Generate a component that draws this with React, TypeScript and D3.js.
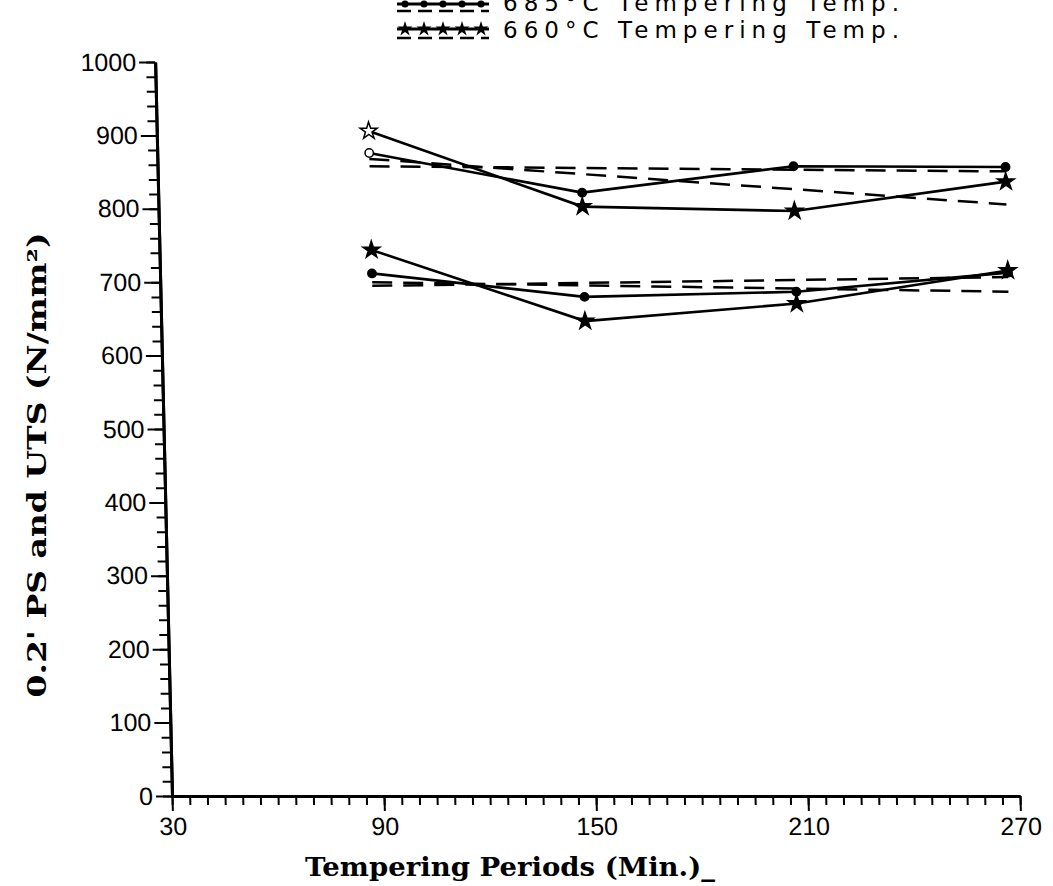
import React, { useEffect, useRef } from 'react';
import * as d3 from 'd3';

// tempering periods (min) and strength values (N/mm^2)
const periods = [90, 150, 210, 270];
const uts685 = [876, 822, 858, 857];
const uts660 = [906, 803, 797, 837];
const ps685 = [712, 680, 687, 713];
const ps660 = [744, 647, 671, 716];

// dashed trend lines, values at the first and last period
const fitPeriods = [90, 270];
const utsFit685 = [858, 851];
const utsFit660 = [868, 806];
const psFit685 = [695, 707];
const psFit660 = [700, 687];

const xMajor = [30, 90, 150, 210, 270];
const yMajor = [0, 100, 200, 300, 400, 500, 600, 700, 800, 900, 1000];

const legendLabels = ['685°C Tempering Temp.', '660°C Tempering Temp.'];

const App = () => {
  const svgRef = useRef(null);

  useEffect(() => {
    const svg = d3.select(svgRef.current);
    svg.selectAll('*').remove();

    const x = d3.scaleLinear().domain([30, 270]).range([172, 1020]);
    const y = d3.scaleLinear().domain([0, 1000]).range([796, 62]);

    // the scan is slightly sheared: top of the plot sits further left
    const g = svg.append('g').attr('transform', 'matrix(1,0,0.023,1,-18.3,0)');

    const tickFont = "'Liberation Sans', Arial, sans-serif";

    // x axis
    const xMinor = g.append('g').attr('transform', `translate(0,${y(0)})`)
      .call(d3.axisBottom(x).tickValues(d3.range(30, 271, 5)).tickSize(9).tickSizeOuter(0).tickFormat(() => ''));
    const xMaj = g.append('g').attr('transform', `translate(0,${y(0)})`)
      .call(d3.axisBottom(x).tickValues(xMajor).tickSize(15).tickSizeOuter(0).tickPadding(6).tickFormat(d3.format('d')));

    // y axis
    const yMinor = g.append('g').attr('transform', `translate(${x(30)},0)`)
      .call(d3.axisLeft(y).tickValues(d3.range(0, 1001, 20)).tickSize(9).tickSizeOuter(0).tickFormat(() => ''));
    const yMaj = g.append('g').attr('transform', `translate(${x(30)},0)`)
      .call(d3.axisLeft(y).tickValues(yMajor).tickSize(16).tickSizeOuter(0).tickPadding(3).tickFormat(d3.format('d')));

    [xMinor, xMaj, yMinor, yMaj].forEach(a => {
      a.selectAll('line').attr('stroke', '#000').attr('stroke-width', 2);
      a.select('.domain').attr('stroke', '#000').attr('stroke-width', 3);
      a.selectAll('text').attr('font-family', tickFont).attr('font-size', 25).attr('fill', '#000');
    });

    const line = d3.line().x(d => x(d[0])).y(d => y(d[1]));

    const drawFit = (vals) => {
      g.append('path')
        .datum(fitPeriods.map((p, i) => [p, vals[i]]))
        .attr('d', line)
        .attr('fill', 'none')
        .attr('stroke', '#000')
        .attr('stroke-width', 2.5)
        .attr('stroke-dasharray', '20,11');
    };
    [utsFit685, utsFit660, psFit685, psFit660].forEach(drawFit);

    const star = d3.symbol().type(d3.symbolStar).size(90);
    const circle = d3.symbol().type(d3.symbolCircle).size(55);

    const drawSeries = (vals, sym, hollowFirst) => {
      const pts = periods.map((p, i) => [p, vals[i]]);
      g.append('path')
        .datum(pts)
        .attr('d', line)
        .attr('fill', 'none')
        .attr('stroke', '#000')
        .attr('stroke-width', 2.6);
      g.selectAll(null)
        .data(pts)
        .join('path')
        .attr('d', sym)
        .attr('transform', d => `translate(${x(d[0])},${y(d[1])})`)
        .attr('fill', (d, i) => (hollowFirst && i === 0 ? '#fff' : '#000'))
        .attr('stroke', '#000')
        .attr('stroke-width', 1.5);
    };
    drawSeries(uts685, circle, true);
    drawSeries(uts660, star, true);
    drawSeries(ps685, circle, false);
    drawSeries(ps660, star, false);

    // axis titles
    svg.append('text')
      .attr('transform', `translate(46,465) rotate(-90)`)
      .attr('text-anchor', 'middle')
      .attr('font-family', "'DejaVu Serif', serif")
      .attr('font-weight', 'bold')
      .attr('font-size', 26)
      .attr('textLength', 465)
      .attr('lengthAdjust', 'spacingAndGlyphs')
      .text('0.2\' PS and UTS (N/mm²)');

    svg.append('text')
      .attr('x', 305)
      .attr('y', 876)
      .attr('font-family', "'DejaVu Serif', serif")
      .attr('font-weight', 'bold')
      .attr('font-size', 26)
      .attr('textLength', 410)
      .attr('lengthAdjust', 'spacingAndGlyphs')
      .text('Tempering Periods (Min.)_');

    // legend (top row is cut by the image edge, as in the scan)
    const legStar = d3.symbol().type(d3.symbolStar).size(70);
    const legCircle = d3.symbol().type(d3.symbolCircle).size(40);
    const rows = [
      { sym: legCircle, solidY: 4, dashY: 11, textY: 11 },
      { sym: legStar, solidY: 29, dashY: 38, textY: 38 },
    ];
    const sampleX = d3.scaleLinear().domain([0, 4]).range([405, 481]);
    rows.forEach((r, k) => {
      svg.append('line').attr('x1', 397).attr('x2', 489).attr('y1', r.solidY).attr('y2', r.solidY)
        .attr('stroke', '#000').attr('stroke-width', 2.8);
      svg.append('line').attr('x1', 397).attr('x2', 489).attr('y1', r.dashY).attr('y2', r.dashY)
        .attr('stroke', '#000').attr('stroke-width', 2.5).attr('stroke-dasharray', '14,7');
      svg.selectAll(null).data(d3.range(5)).join('path')
        .attr('d', r.sym)
        .attr('transform', d => `translate(${sampleX(d)},${r.solidY})`)
        .attr('fill', '#000');
      svg.append('text')
        .attr('x', 503)
        .attr('y', r.textY)
        .attr('font-family', "'DejaVu Sans', sans-serif")
        .attr('font-size', 23)
        .attr('textLength', 396)
        .attr('lengthAdjust', 'spacing')
        .attr('fill', '#000')
        .text(legendLabels[k]);
    });
  }, []);

  return (
    <svg ref={svgRef} width={1053} height={886}
      style={{ position: 'absolute', left: 0, top: 0, background: '#fff' }} />
  );
};

export default App;
